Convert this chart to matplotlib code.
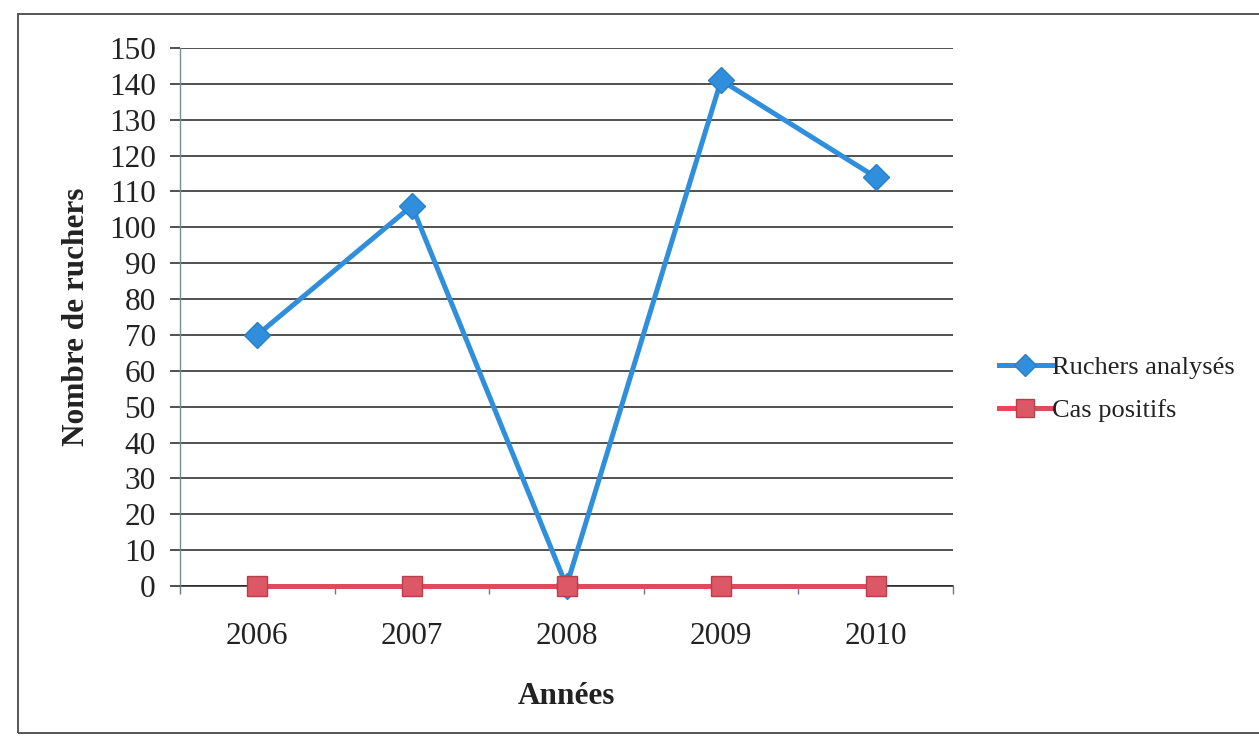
import matplotlib
matplotlib.use("Agg")
import matplotlib.pyplot as plt
from matplotlib.patches import Rectangle

plt.rcParams['font.family'] = ['Liberation Serif', 'DejaVu Serif']

# Données
annees = ["2006", "2007", "2008", "2009", "2010"]
ruchers_analyses = [70, 106, 0, 141, 114]
cas_positifs = [0, 0, 0, 0, 0]
y_ticks = list(range(0, 151, 10))

W, H = 1259, 744
fig = plt.figure(figsize=(W / 100, H / 100), dpi=100)
fig.patch.set_facecolor("white")

# Cadre extérieur du graphique
fig.patches.append(Rectangle((18 / W, 1 - 733 / H), (1270 - 18) / W, (733 - 14) / H,
                             transform=fig.transFigure, fill=False,
                             edgecolor="#555555", linewidth=1.4))

ax = fig.add_axes([180 / W, 1 - 586 / H, 773 / W, 538 / H])

x = list(range(len(annees)))
blue = "#2f8fdc"
red = "#e04a5a"

ax.plot(x, ruchers_analyses, color=blue, linewidth=3.6, marker="D",
        markersize=13, markerfacecolor=blue, markeredgecolor="#2a80c8",
        markeredgewidth=1.0, label="Ruchers analysés", zorder=3,
        clip_on=False, solid_joinstyle="round")
ax.plot(x, cas_positifs, color=red, linewidth=3.6, marker="s",
        markersize=14, markerfacecolor="#dd5866", markeredgecolor="#b83e4c",
        markeredgewidth=1.0, label="Cas positifs", zorder=4, clip_on=False)

ax.set_xlim(-0.5, len(annees) - 0.5)
ax.set_ylim(0, 150)
ax.set_yticks(y_ticks)
ax.set_xticks(x)
ax.set_xticklabels(annees)
ax.set_xticks([i - 0.5 for i in range(len(annees) + 1)], minor=True)

ax.grid(axis="y", color="#222222", linewidth=1.1, zorder=1)
ax.set_axisbelow(True)

for s in ["top", "right"]:
    ax.spines[s].set_visible(False)
ax.spines["left"].set_color("#7a8a9a")
ax.spines["left"].set_linewidth(1.0)
ax.spines["bottom"].set_color("#222222")
ax.spines["bottom"].set_linewidth(1.1)
ax.spines["bottom"].set_zorder(2)

ax.tick_params(axis="y", length=7.5, width=1.1, color="#222222", pad=10,
               labelsize=22.5, labelcolor="#222222")
ax.tick_params(axis="x", which="major", length=0, pad=26,
               labelsize=22.5, labelcolor="#222222")
ax.tick_params(axis="x", which="minor", length=6, width=1.0, color="#6a7a8a",
               direction="out")

ax.set_xlabel("Années", fontsize=22.5, fontweight="bold", color="#222222",
              labelpad=22)
ax.set_ylabel("Nombre de ruchers", fontsize=22.5, fontweight="bold",
              color="#222222", labelpad=13)

fig.legend(loc="center left", bbox_to_anchor=(975 / W, 1 - 389 / H),
           frameon=False, fontsize=19, handlelength=2.0, handletextpad=0.0,
           labelspacing=0.75, labelcolor="#222222", markerscale=0.9)

fig.savefig("out.png", dpi=100, facecolor="white")
